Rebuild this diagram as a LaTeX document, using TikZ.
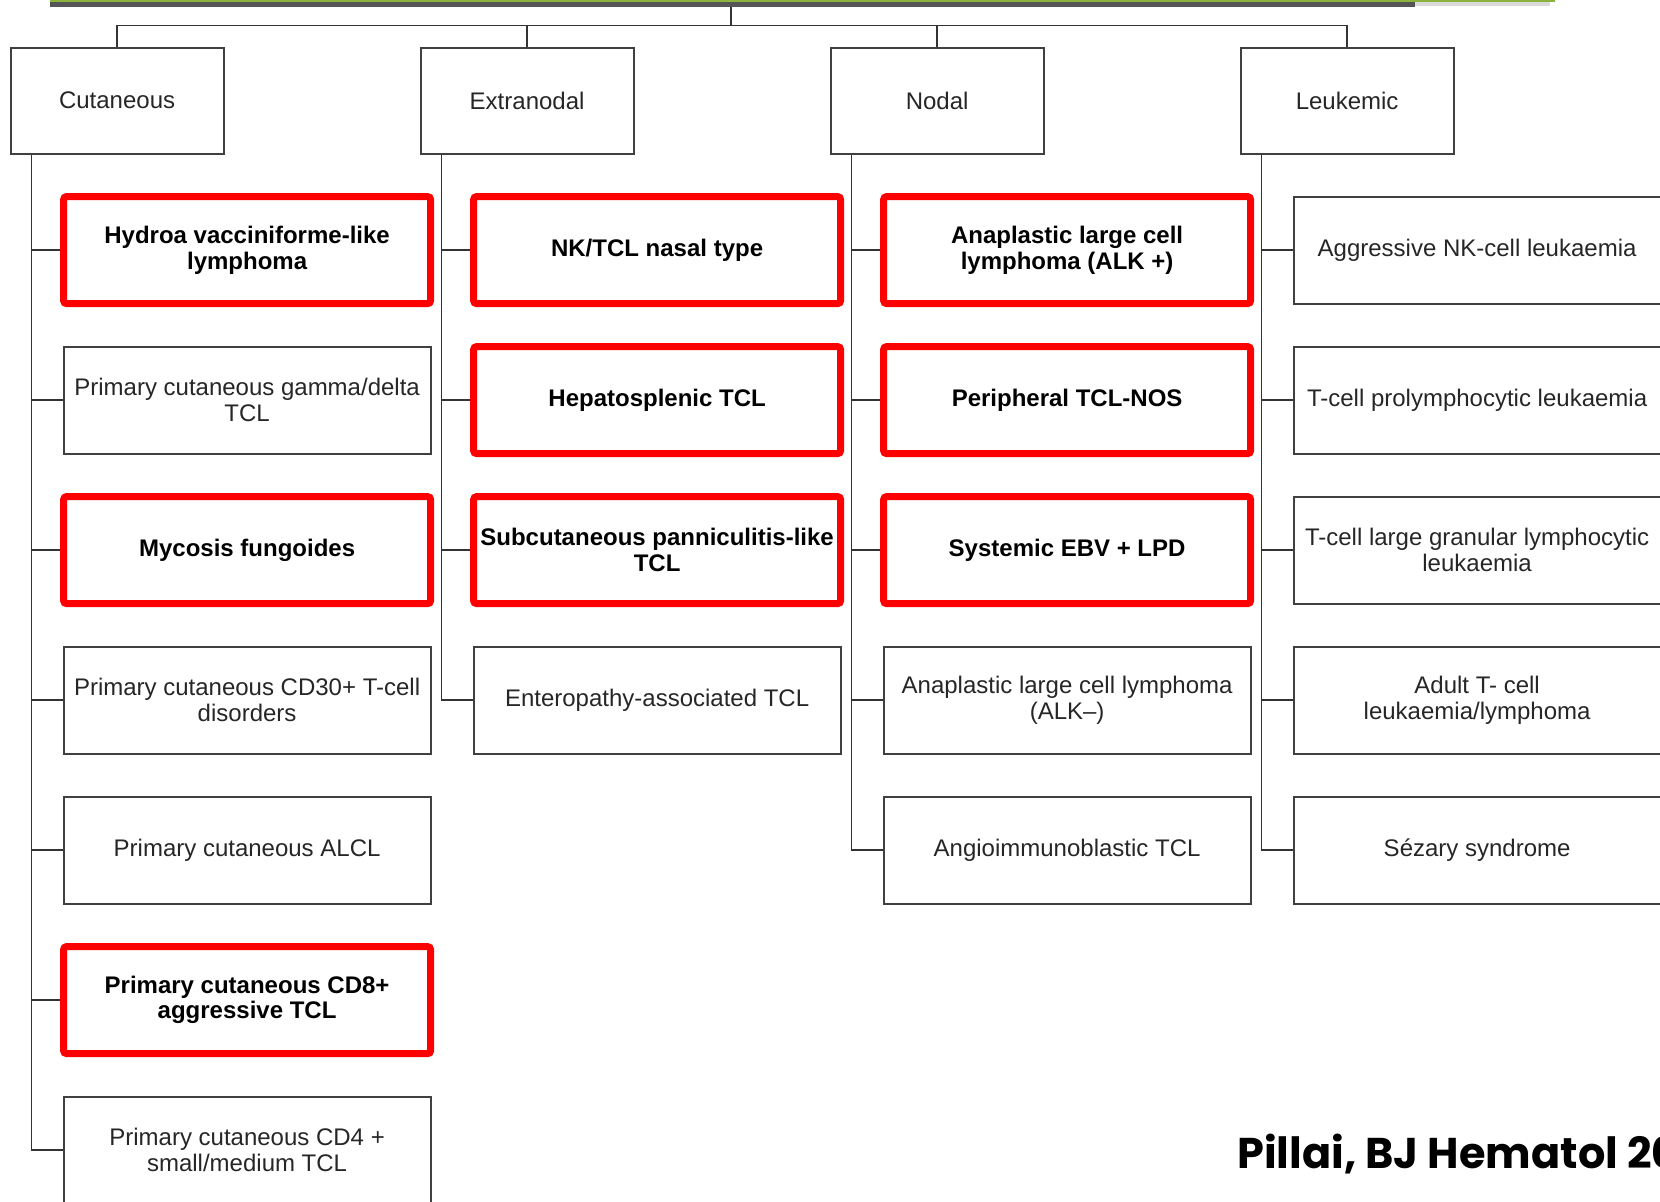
\documentclass[tikz,border=0pt]{standalone}
\usepackage{fontspec}
\setmainfont{Liberation Sans}
\newfontfamily\citefont{Poppins}
\usepackage{tikz}
\usetikzlibrary{positioning}
\usetikzlibrary{backgrounds}

\definecolor{boxred}{RGB}{255,0,0}
\definecolor{bargreen}{RGB}{140,180,60}
\definecolor{bargray}{RGB}{85,85,85}

\begin{document}
\begin{tikzpicture}[
    catbox/.style={draw=black!75, line width=0.9pt, minimum width=106.5pt, minimum height=53pt, inner sep=0pt, outer sep=0pt, align=center, font=\fontsize{12pt}{12.7pt}\selectfont, text=black!85},
    subbox/.style={catbox, minimum width=183.5pt, minimum height=53.5pt},
    redbox/.style={subbox, draw=boxred, line width=3.5pt, rounded corners=1.5pt, font=\fontsize{12pt}{12.7pt}\selectfont\bfseries, text=black},
    link/.style={draw=black!80, line width=0.8pt},
    cite/.style={font=\citefont\fontsize{21.5pt}{26pt}\selectfont\bfseries, inner sep=0pt}
]
    \useasboundingbox (0,0) rectangle (830pt,-600.5pt);
    \clip (0,0) rectangle (830pt,-600.5pt);

    \fill [bargreen] (25pt,0) rectangle (777.5pt,-1pt);
    \fill [bargray] (25pt,-1pt) rectangle (707.5pt,-3.5pt);
    \fill [black!15] (707.5pt,-1pt) rectangle (775pt,-3pt);

    \node [catbox, anchor=north west] (cut) at (5.3pt,-23.8pt) {Cutaneous};
    \node [catbox, right=98.5pt of cut] (extr) {Extranodal};
    \node [catbox, right=98.5pt of extr] (nod) {Nodal};
    \node [catbox, right=98.5pt of nod] (leuk) {Leukemic};

    \node [redbox, below right=21.5pt and 26.5pt of cut.south west] (c1) {Hydroa vacciniforme-like\\lymphoma};
    \node [subbox, below=21.5pt of c1] (c2) {Primary cutaneous gamma/delta\\TCL};
    \node [redbox, below=21.5pt of c2] (c3) {Mycosis fungoides};
    \node [subbox, below=21.5pt of c3] (c4) {Primary cutaneous CD30+ T-cell\\disorders};
    \node [subbox, below=21.5pt of c4] (c5) {Primary cutaneous ALCL};
    \node [redbox, below=21.5pt of c5] (c6) {Primary cutaneous CD8+\\aggressive TCL};
    \node [subbox, below=21.5pt of c6] (c7) {Primary cutaneous CD4 +\\small/medium TCL};

    \node [redbox, below right=21.5pt and 26.5pt of extr.south west] (e1) {NK/TCL nasal type};
    \node [redbox, below=21.5pt of e1] (e2) {Hepatosplenic TCL};
    \node [redbox, below=21.5pt of e2] (e3) {Subcutaneous panniculitis-like\\TCL};
    \node [subbox, below=21.5pt of e3] (e4) {Enteropathy-associated TCL};

    \node [redbox, below right=21.5pt and 26.5pt of nod.south west] (n1) {Anaplastic large cell\\lymphoma (ALK +)};
    \node [redbox, below=21.5pt of n1] (n2) {Peripheral TCL-NOS};
    \node [redbox, below=21.5pt of n2] (n3) {Systemic EBV + LPD};
    \node [subbox, below=21.5pt of n3] (n4) {Anaplastic large cell lymphoma\\(ALK–)};
    \node [subbox, below=21.5pt of n4] (n5) {Angioimmunoblastic TCL};

    \node [subbox, below right=21.5pt and 26.5pt of leuk.south west] (l1) {Aggressive NK-cell leukaemia};
    \node [subbox, below=21.5pt of l1] (l2) {T-cell prolymphocytic leukaemia};
    \node [subbox, below=21.5pt of l2] (l3) {T-cell large granular lymphocytic\\leukaemia};
    \node [subbox, below=21.5pt of l3] (l4) {Adult T- cell\\leukaemia/lymphoma};
    \node [subbox, below=21.5pt of l4] (l5) {Sézary syndrome};

    \node [cite, anchor=base west] (ref) at (618.5pt,-584pt) {Pillai, BJ Hematol 20};

    \begin{scope}[on background layer]
        \coordinate (top) at (365.5pt,-3pt);
        \coordinate (hub) at (365.5pt,-12.7pt);
        \draw [link] (top) -- (hub);
        \draw [link] (cut.north) |- (hub) -| (leuk.north);
        \draw [link] (extr.north) -- (extr.north |- hub);
        \draw [link] (nod.north) -- (nod.north |- hub);

        \coordinate (cutT) at ([xshift=10.5pt]cut.south west);
        \coordinate (extrT) at ([xshift=10.5pt]extr.south west);
        \coordinate (nodT) at ([xshift=10.5pt]nod.south west);
        \coordinate (leukT) at ([xshift=10.5pt]leuk.south west);

        \draw [link] (cutT) |- (c7.west);
        \foreach \b in {c1,c2,c3,c4,c5,c6}
            \draw [link] (\b.west) -- (\b.west -| cutT);
        \draw [link] (extrT) |- (e4.west);
        \foreach \b in {e1,e2,e3}
            \draw [link] (\b.west) -- (\b.west -| extrT);
        \draw [link] (nodT) |- (n5.west);
        \foreach \b in {n1,n2,n3,n4}
            \draw [link] (\b.west) -- (\b.west -| nodT);
        \draw [link] (leukT) |- (l5.west);
        \foreach \b in {l1,l2,l3,l4}
            \draw [link] (\b.west) -- (\b.west -| leukT);
    \end{scope}
\end{tikzpicture}
\end{document}
